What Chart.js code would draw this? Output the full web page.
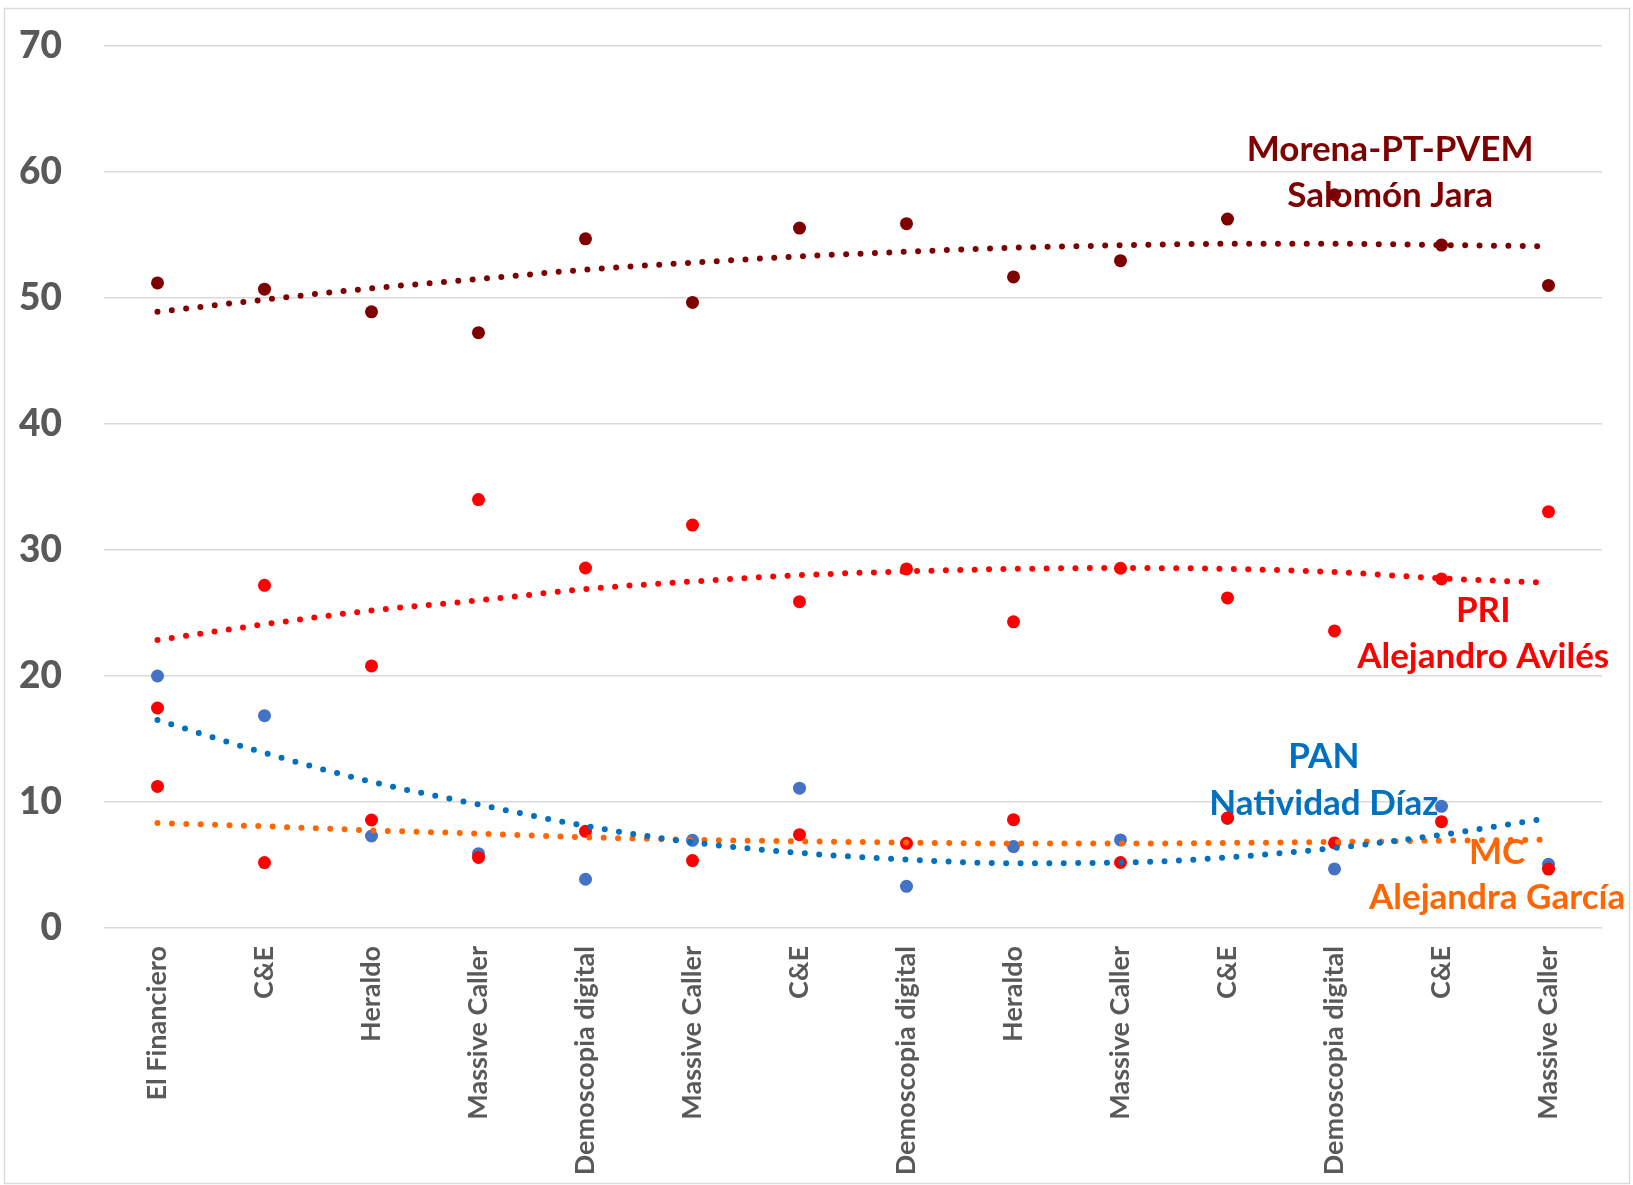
<!DOCTYPE html>
<html>
<head>
<meta charset="utf-8">
<script src="https://cdn.jsdelivr.net/npm/chart.js@4"></script>
<style>
  html, body { margin: 0; padding: 0; background: #fff; }
  canvas { display: block; }
</style>
</head>
<body>
<canvas id="chart" width="1633" height="1185"></canvas>
<script>
// encuestas (categorias del eje x)
const categories = ['El Financiero', 'C&E', 'Heraldo', 'Massive Caller', 'Demoscopia digital', 'Massive Caller',
  'C&E', 'Demoscopia digital', 'Heraldo', 'Massive Caller', 'C&E', 'Demoscopia digital', 'C&E', 'Massive Caller'];

// valores por candidato
const morena = [51.2, 50.7, 48.9, 47.25, 54.7, 49.65, 55.55, 55.9, 51.67, 52.96, 56.26, 58.2, 54.2, 51.0];
const pri = [17.46, 27.2, 20.8, 34.0, 28.57, 31.98, 25.9, 28.5, 24.3, 28.55, 26.2, 23.58, 27.7, 33.04];
const pan = [20.0, 16.85, 7.3, 5.9, 3.87, 6.96, 11.1, 3.31, 6.46, 6.99, 8.7, 4.69, 9.66, 5.06];
const mc = [11.24, 5.19, 8.57, 5.6, 7.67, 5.35, 7.41, 6.72, 8.6, 5.2, 8.73, 6.75, 8.44, 4.68];

// lineas de tendencia
const morenaTrend = [48.9, 49.87, 50.77, 51.5, 52.25, 52.8, 53.3, 53.67, 53.99, 54.18, 54.3, 54.3, 54.2, 54.1];
const priTrend = [22.85, 24.1, 25.2, 26.0, 26.9, 27.5, 28.0, 28.3, 28.5, 28.57, 28.5, 28.25, 27.75, 27.4];
const panTrend = [16.5, 13.9, 11.6, 9.8, 8.1, 6.8, 5.96, 5.43, 5.14, 5.19, 5.6, 6.35, 7.4, 8.73];
const mcTrend = [8.33, 8.07, 7.75, 7.49, 7.2, 7.0, 6.88, 6.78, 6.7, 6.7, 6.75, 6.83, 6.93, 7.0];

// etiquetas de texto
const morenaLabel = ['Morena-PT-PVEM', 'Salomón Jara'];
const priLabel = ['PRI', 'Alejandro Avilés'];
const panLabel = ['PAN', 'Natividad Díaz'];
const mcLabel = ['MC', 'Alejandra García'];

const yTicks = [0, 10, 20, 30, 40, 50, 60, 70];

const FONT = 'Lato, "Open Sans", sans-serif';

function trend(data, color) {
  return {
    data: data,
    borderColor: color,
    borderWidth: 6,
    borderDash: [0, 14.4],
    borderCapStyle: 'round',
    cubicInterpolationMode: 'monotone',
    pointRadius: 0,
    fill: false
  };
}

function dots(data, color) {
  return {
    data: data,
    showLine: false,
    pointRadius: 6.5,
    pointBackgroundColor: color,
    pointBorderWidth: 0,
    borderColor: color
  };
}

// marco exterior
const framePlugin = {
  id: 'frame',
  beforeDraw(chart) {
    const ctx = chart.ctx;
    ctx.save();
    ctx.fillStyle = '#fff';
    ctx.fillRect(0, 0, chart.width, chart.height);
    ctx.strokeStyle = '#D9D9D9';
    ctx.lineWidth = 1.5;
    ctx.strokeRect(4.5, 8.5, 1625, 1175);
    ctx.restore();
  }
};

// textos de cada candidato, posicion en coordenadas de datos
const notesPlugin = {
  id: 'notes',
  beforeDatasetsDraw(chart, args, opts) {
    const ctx = chart.ctx;
    const x = chart.scales.x, y = chart.scales.y;
    ctx.save();
    ctx.font = 'bold 35px ' + FONT;
    ctx.textAlign = 'center';
    ctx.textBaseline = 'middle';
    opts.items.forEach(function (n) {
      ctx.fillStyle = n.color;
      n.lines.forEach(function (t, i) {
        ctx.fillText(t, x.getPixelForValue(n.at), y.getPixelForValue(n.vals[i]));
      });
    });
    ctx.restore();
  }
};

new Chart(document.getElementById('chart'), {
  type: 'line',
  data: {
    labels: categories,
    datasets: [
      trend(morenaTrend, '#7F0000'),
      trend(priTrend, '#FF0000'),
      trend(panTrend, '#0070C0'),
      trend(mcTrend, '#FF6600'),
      dots(mc, '#FF0000'),
      dots(pri, '#FF0000'),
      dots(pan, '#4472C4'),
      dots(morena, '#7F0000')
    ]
  },
  options: {
    responsive: false,
    animation: false,
    layout: { padding: { top: 46, right: 31, left: 0, bottom: 0 } },
    plugins: {
      legend: { display: false },
      tooltip: { enabled: false },
      notes: {
        items: [
          { lines: morenaLabel, color: '#7F0000', at: 11.52, vals: [61.8, 58.1] },
          { lines: priLabel, color: '#FF0000', at: 12.39, vals: [25.2, 21.5] },
          { lines: panLabel, color: '#0070C0', at: 10.9, vals: [13.6, 9.9] },
          { lines: mcLabel, color: '#FF6600', at: 12.52, vals: [5.95, 2.4] }
        ]
      }
    },
    scales: {
      x: {
        offset: true,
        grid: { display: false, drawTicks: false },
        border: { display: false },
        ticks: {
          autoSkip: false,
          maxRotation: 90,
          minRotation: 90,
          padding: 18,
          color: '#595959',
          font: { family: FONT, size: 27, weight: 'bold' }
        },
        afterFit(scale) { scale.height = 257; }
      },
      y: {
        min: 0,
        max: 70,
        afterBuildTicks(scale) { scale.ticks = yTicks.map(v => ({ value: v })); },
        grid: { color: '#D9D9D9', lineWidth: 1.5, drawTicks: false },
        border: { display: false },
        ticks: {
          padding: 42,
          color: '#595959',
          font: { family: FONT, size: 37, weight: 900 }
        },
        afterFit(scale) {
          scale.width = 104;
          // el padding de los ticks no debe empujar el area del grafico
          scale.paddingTop = 0;
          scale.paddingBottom = 0;
        }
      }
    }
  },
  plugins: [framePlugin, notesPlugin]
});
</script>
</body>
</html>
